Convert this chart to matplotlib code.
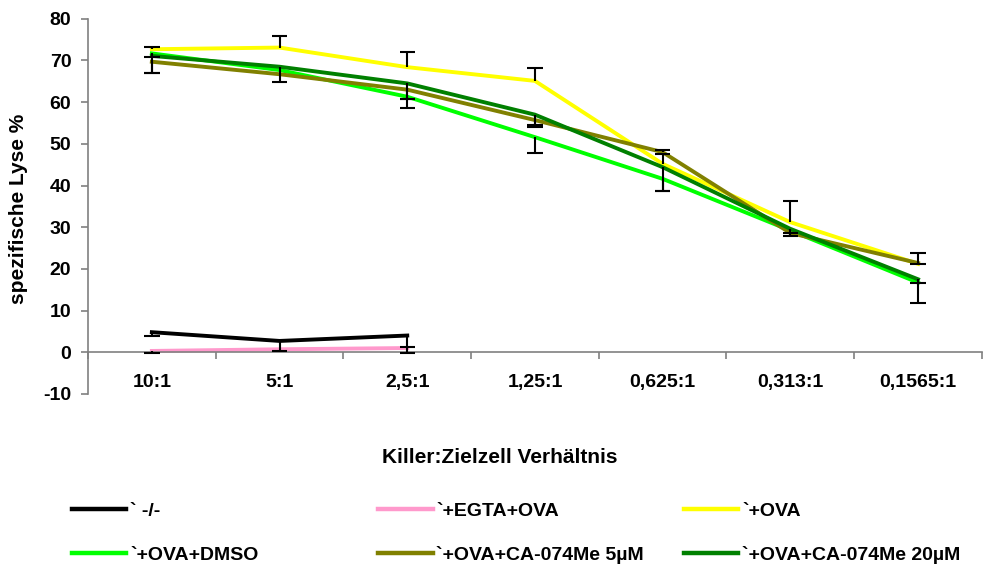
import numpy as np
import matplotlib
matplotlib.use("Agg")
import matplotlib.pyplot as plt

plt.rcParams['font.family'] = ['Liberation Sans', 'DejaVu Sans']
plt.rcParams['font.weight'] = 'bold'
plt.rcParams['axes.unicode_minus'] = False

ratios = ["10:1", "5:1", "2,5:1", "1,25:1", "0,625:1", "0,313:1", "0,1565:1"]

# mean lysis per condition (%); the -/- and EGTA series only have 3 points
ko = [4.8, 2.7, 4.0]
egta = [0.3, 0.7, 1.0]
ova = [72.7, 73.1, 68.4, 65.1, 45.2, 31.2, 21.2]
dmso = [71.7, 67.7, 61.3, 51.6, 41.6, 29.2, 16.7]
ca5 = [69.7, 66.7, 63.0, 55.7, 48.0, 28.6, 21.4]
ca20 = [71.1, 68.5, 64.5, 57.0, 44.4, 29.6, 17.5]

# one-sided error bars (plus / minus), as exported from the spreadsheet
ko_plus = [0, 0, 0]
ko_minus = [0.8, 2.5, 4.2]
egta_plus = [0, 0, 0.3]
egta_minus = [0.5, 0, 0]
ova_plus = [0.6, 2.8, 3.7, 3.0, 2.4, 5.2, 2.7]
ova_minus = [0, 0, 0, 0, 0, 0, 0]
dmso_plus = [0, 0, 0, 0, 0, 0, 0]
dmso_minus = [0.8, 0, 0.6, 3.7, 2.8, 0, 4.8]
ca5_plus = [0, 0, 0, 0, 0.4, 0, 0]
ca5_minus = [2.6, 0, 2.3, 1.7, 0, 0.6, 0.3]
ca20_plus = [0, 0, 0, 0, 0, 0, 0]
ca20_minus = [4.0, 3.6, 6.0, 2.5, 5.6, 0.9, 1.0]

series = [
    ("` -/-", ko, ko_plus, ko_minus, "#000000"),
    ("`+EGTA+OVA", egta, egta_plus, egta_minus, "#FF99CC"),
    ("`+OVA", ova, ova_plus, ova_minus, "#FFFF00"),
    ("`+OVA+DMSO", dmso, dmso_plus, dmso_minus, "#00FF00"),
    ("`+OVA+CA-074Me 5µM", ca5, ca5_plus, ca5_minus, "#808000"),
    ("`+OVA+CA-074Me 20µM", ca20, ca20_plus, ca20_minus, "#008000"),
]

fig = plt.figure(figsize=(9.91, 5.70), dpi=100)
ax = fig.add_axes([0.0888, 0.309, 0.902, 0.658])

cap = 0.06
handles = []
for name, vals, plus, minus, col in series:
    x = np.arange(len(vals))
    v = np.array(vals)
    ln, = ax.plot(x, v, color=col, lw=2.8, label=name, zorder=2)
    handles.append(ln)
    for xi, yi, pi, mi in zip(x, v, plus, minus):
        if pi > 0:
            ax.vlines(xi, yi, yi + pi, color="black", lw=1.5, zorder=4)
            ax.hlines(yi + pi, xi - cap, xi + cap, color="black", lw=1.5, zorder=4)
        if mi > 0:
            ax.vlines(xi, yi - mi, yi, color="black", lw=1.5, zorder=4)
            ax.hlines(yi - mi, xi - cap, xi + cap, color="black", lw=1.5, zorder=4)

ax.set_xlim(-0.5, len(ratios) - 0.5)
ax.set_ylim(-10, 80)
ax.set_yticks(np.arange(-10, 81, 10))

for s in ["top", "right"]:
    ax.spines[s].set_visible(False)
ax.spines["bottom"].set_position(("data", 0))
for s in ["bottom", "left"]:
    ax.spines[s].set_color("#808080")
    ax.spines[s].set_linewidth(1.2)

# category boundaries as ticks, names in the middle without ticks
ax.set_xticks(np.arange(len(ratios) + 1) - 0.5)
ax.set_xticklabels([])
ax.set_xticks(np.arange(len(ratios)), minor=True)
ax.set_xticklabels(ratios, minor=True)
ax.tick_params(axis="x", which="major", direction="out", length=5, color="#808080", width=1.2)
ax.tick_params(axis="x", which="minor", length=0, pad=16, labelsize=14)
ax.tick_params(axis="y", direction="out", length=5, color="#808080", width=1.2,
               pad=7, labelsize=14)

fig.text(19 / 991, 0.633, "spezifische Lyse %", rotation=90, ha="center", va="center",
         fontsize=15, fontweight="bold")
fig.text(0.504, 0.198, "Killer:Zielzell Verhältnis", ha="center", va="center",
         fontsize=15, fontweight="bold")

# legend in three fixed columns
col_x = [0.0727, 0.3815, 0.690]
for i, cx in enumerate(col_x):
    hs = [handles[i], handles[i + 3]]
    leg = fig.legend(hs, [h.get_label() for h in hs], loc="upper left",
                     bbox_to_anchor=(cx, 0.119), frameon=False,
                     fontsize=14, handlelength=2.8, handletextpad=0.2,
                     labelspacing=1.35, borderaxespad=0, borderpad=0)
    for lh in leg.get_lines():
        lh.set_linewidth(3.2)

fig.savefig("out.png", dpi=100)
